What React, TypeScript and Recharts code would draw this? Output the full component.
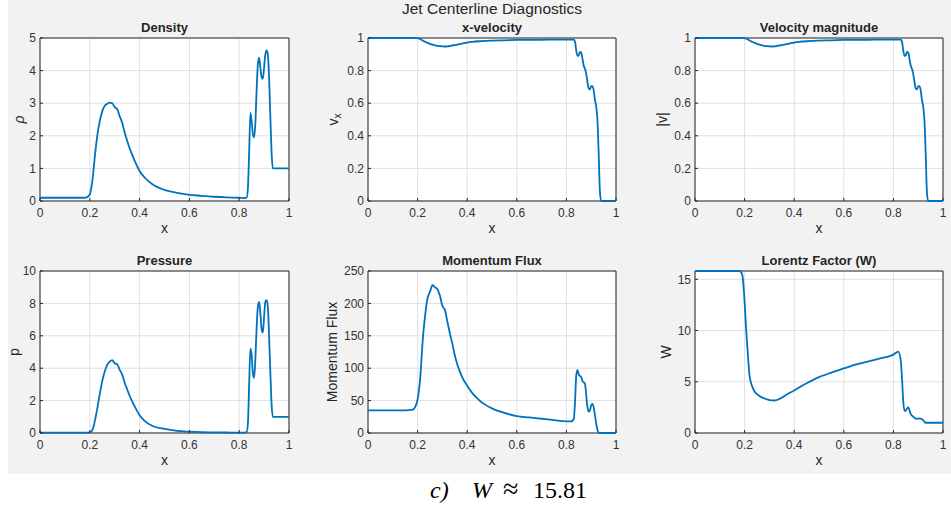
import React from "react";
import { LineChart, Line, XAxis, YAxis, CartesianGrid, ReferenceArea } from "recharts";

// centerline samples (x position)
const xs = [
  0, 0.05, 0.1, 0.15, 0.18, 0.19, 0.2, 0.205, 0.21, 0.215,
  0.22, 0.23, 0.24, 0.25, 0.26, 0.27, 0.28, 0.29, 0.3, 0.31,
  0.32, 0.33, 0.34, 0.35, 0.36, 0.37, 0.38, 0.4, 0.42, 0.45,
  0.5, 0.55, 0.6, 0.65, 0.7, 0.75, 0.8, 0.82, 0.83, 0.835,
  0.84, 0.845, 0.85, 0.855, 0.86, 0.865, 0.87, 0.875, 0.88, 0.885,
  0.89, 0.895, 0.9, 0.905, 0.91, 0.915, 0.92, 0.925, 0.93, 0.935,
  0.94, 0.95, 1,
];

const density = [
  0.1, 0.1, 0.1, 0.1, 0.1, 0.12, 0.2, 0.35, 0.6, 0.95,
  1.35, 2.0, 2.45, 2.75, 2.92, 2.98, 3.02, 3.0, 2.88, 2.82,
  2.6, 2.4, 2.1, 1.85, 1.62, 1.42, 1.24, 0.92, 0.72, 0.52,
  0.34, 0.25, 0.19, 0.16, 0.13, 0.11, 0.1, 0.09, 0.1, 0.4,
  1.5, 2.7, 2.45, 2.05, 1.95, 2.4, 3.4, 4.2, 4.4, 4.1,
  3.8, 3.75, 4.1, 4.5, 4.62, 4.5, 3.8, 2.6, 1.5, 1.0,
  1.0, 1.0, 1.0,
];

const xVelocity = [
  1, 1, 1, 1, 1, 1, 0.998, 0.997, 0.995, 0.99,
  0.985, 0.977, 0.97, 0.964, 0.959, 0.955, 0.952, 0.95, 0.949, 0.948,
  0.949, 0.951, 0.954, 0.957, 0.96, 0.963, 0.966, 0.972, 0.976, 0.98,
  0.984, 0.986, 0.988, 0.989, 0.989, 0.99, 0.99, 0.99, 0.99, 0.975,
  0.92, 0.89, 0.895, 0.915, 0.91, 0.87, 0.83, 0.81, 0.78, 0.73,
  0.69, 0.685, 0.705, 0.705, 0.68, 0.62, 0.58, 0.5, 0.3, 0.06,
  0, 0, 0,
];

const velMagnitude = [
  1, 1, 1, 1, 1, 1, 0.998, 0.997, 0.995, 0.99,
  0.985, 0.977, 0.97, 0.964, 0.959, 0.955, 0.952, 0.95, 0.949, 0.948,
  0.949, 0.951, 0.954, 0.957, 0.96, 0.963, 0.966, 0.972, 0.976, 0.98,
  0.984, 0.986, 0.988, 0.989, 0.989, 0.99, 0.99, 0.99, 0.99, 0.975,
  0.92, 0.89, 0.895, 0.915, 0.91, 0.87, 0.83, 0.81, 0.78, 0.73,
  0.69, 0.685, 0.705, 0.705, 0.68, 0.62, 0.58, 0.5, 0.3, 0.06,
  0, 0, 0,
];

const pressure = [
  0.02, 0.02, 0.02, 0.02, 0.02, 0.02, 0.04, 0.08, 0.18, 0.38,
  0.72, 1.5, 2.4, 3.2, 3.8, 4.2, 4.4, 4.5, 4.3, 4.25,
  3.9, 3.6, 3.1, 2.7, 2.3, 1.95, 1.65, 1.1, 0.75, 0.45,
  0.25, 0.13, 0.08, 0.05, 0.04, 0.03, 0.02, 0.02, 0.05, 0.6,
  3.0, 5.2, 4.8, 3.7, 3.4, 4.6, 6.5, 7.8, 8.1, 7.4,
  6.4, 6.2, 7.2, 8.1, 8.2, 7.8, 6.0, 3.8, 1.8, 1.0,
  1.0, 1.0, 1.0,
];

const momentumFlux = [
  35, 35, 35, 35, 36, 40, 52, 65, 82, 110,
  140, 180, 208, 218, 228, 225, 222, 212, 196, 190,
  172, 154, 138, 120, 106, 95, 86, 73, 62, 50,
  38, 31, 26, 24, 22, 20, 18, 18, 22, 50,
  90, 97, 90, 88, 86, 80, 78, 76, 58, 40,
  33, 35, 43, 45, 40, 28, 15, 5, 0.5, 0,
  0, 0, 0,
];

const lorentz = [
  15.81, 15.81, 15.81, 15.81, 15.81, 15.5, 12.8, 10.6, 8.8, 7.0,
  5.6, 4.6, 4.05, 3.8, 3.62, 3.48, 3.37, 3.28, 3.22, 3.18,
  3.17, 3.22, 3.32, 3.45, 3.6, 3.75, 3.9, 4.15, 4.45, 4.85,
  5.45, 5.9, 6.3, 6.7, 7.0, 7.3, 7.65, 7.95, 7.0, 5.2,
  3.0, 2.15, 2.2, 2.4, 2.5, 2.2, 1.85, 1.7, 1.6, 1.5,
  1.4, 1.4, 1.4, 1.42, 1.4, 1.35, 1.25, 1.1, 1.0, 1.0,
  1.0, 1.0, 1.0,
];

const xTicks = [0, 0.2, 0.4, 0.6, 0.8, 1];
const densityTicks = [0, 1, 2, 3, 4, 5];
const velTicks = [0, 0.2, 0.4, 0.6, 0.8, 1];
const pressureTicks = [0, 2, 4, 6, 8, 10];
const fluxTicks = [0, 50, 100, 150, 200, 250];
const lorentzTicks = [0, 5, 10, 15];

const SANS = '"Liberation Sans", Arial, Helvetica, sans-serif';
const SERIF = '"Liberation Serif", "DejaVu Serif", serif';
const INK = "#262626";
const BLUE = "#0072BD";

const YW = 60; // y axis band
const MT = 12;
const MR = 6;
const XH = 40;

interface PanelProps {
  title: string;
  yLabel: React.ReactNode;
  values: number[];
  yMax: number;
  yTicks: number[];
  left: number;
  top: number;
  w: number;
  h: number;
  labelX: number;
}

function Panel(props: PanelProps) {
  const { title, yLabel, values, yMax, yTicks, left, top, w, h, labelX } = props;
  const data = xs.map((x, i) => ({ x, y: values[i] }));
  const chartLeft = left - YW;
  const lx = labelX - chartLeft;
  const ly = MT + h / 2;

  return (
    <>
      <div
        style={{
          position: "absolute",
          left,
          top: top - 18,
          width: w,
          textAlign: "center",
          font: `bold 13px ${SANS}`,
          lineHeight: "16px",
          color: INK,
        }}
      >
        {title}
      </div>
      <div style={{ position: "absolute", left: chartLeft, top: top - MT }}>
        <LineChart
          width={YW + w + MR}
          height={MT + h + XH}
          data={data}
          margin={{ top: MT, right: MR, left: 0, bottom: 0 }}
        >
          <CartesianGrid fill="#fff" stroke="#e0e0e0" />
          <XAxis
            dataKey="x"
            type="number"
            domain={[0, 1]}
            ticks={xTicks}
            interval={0}
            height={XH}
            axisLine={false}
            tickSize={-3}
            tickMargin={10}
            tickLine={{ stroke: INK }}
            tick={{ fill: "#333", fontSize: 12, fontFamily: SANS }}
            label={() => (
              <text
                x={YW + w / 2}
                y={MT + h + 32}
                textAnchor="middle"
                fontSize={14}
                fontFamily={SANS}
                fill={INK}
              >
                x
              </text>
            )}
          />
          <YAxis
            type="number"
            domain={[0, yMax]}
            ticks={yTicks}
            interval={0}
            width={YW}
            axisLine={false}
            tickSize={-3}
            tickMargin={7}
            tickLine={{ stroke: INK }}
            tick={{ fill: "#333", fontSize: 12, fontFamily: SANS }}
            label={() => (
              <text
                x={lx}
                y={ly}
                dy="0.35em"
                transform={`rotate(-90, ${lx}, ${ly})`}
                textAnchor="middle"
                fontSize={14}
                fontFamily={SANS}
                fill={INK}
              >
                {yLabel}
              </text>
            )}
          />
          <ReferenceArea x1={0} x2={1} y1={0} y2={yMax} fill="none" stroke={INK} strokeWidth={1} />
          <Line
            type="monotone"
            dataKey="y"
            stroke={BLUE}
            strokeWidth={1.8}
            dot={false}
            isAnimationActive={false}
          />
        </LineChart>
      </div>
    </>
  );
}

export default function App() {
  return (
    <div style={{ position: "absolute", left: 0, top: 0, width: 951, height: 507, background: "#fff" }}>
      <div style={{ position: "absolute", left: 8, top: 0, width: 943, height: 474, background: "#f2f2f2" }} />
      <div
        style={{
          position: "absolute",
          left: 392,
          top: 0,
          width: 200,
          textAlign: "center",
          font: `15.5px ${SANS}`,
          lineHeight: "18px",
          color: INK,
        }}
      >
        Jet Centerline Diagnostics
      </div>

      <Panel title="Density" yLabel={<tspan fontStyle="italic">ρ</tspan>} values={density} yMax={5}
        yTicks={densityTicks} left={40} top={38} w={249} h={163} labelX={19} />
      <Panel
        title="x-velocity"
        yLabel={
          <>
            <tspan>v</tspan>
            <tspan fontSize={10} dy={3}>x</tspan>
          </>
        }
        values={xVelocity} yMax={1} yTicks={velTicks} left={368} top={38} w={248} h={163} labelX={333} />
      <Panel title="Velocity magnitude" yLabel="|v|" values={velMagnitude} yMax={1}
        yTicks={velTicks} left={695} top={38} w={248} h={163} labelX={662} />

      <Panel title="Pressure" yLabel="p" values={pressure} yMax={10}
        yTicks={pressureTicks} left={40} top={271} w={249} h={162} labelX={14} />
      <Panel title="Momentum Flux" yLabel="Momentum Flux" values={momentumFlux} yMax={250}
        yTicks={fluxTicks} left={368} top={271} w={248} h={162} labelX={332} />
      <Panel title="Lorentz Factor (W)" yLabel="W" values={lorentz} yMax={15.81}
        yTicks={lorentzTicks} left={695} top={271} w={248} h={162} labelX={666} />

      <div style={{ position: "absolute", left: 0, top: 478, width: 951, height: 26, font: `24px ${SERIF}`, color: "#000", lineHeight: "24px" }}>
        <span style={{ position: "absolute", left: 430, fontStyle: "italic" }}>c)</span>
        <span style={{ position: "absolute", left: 472, fontStyle: "italic" }}>W</span>
        <span style={{ position: "absolute", left: 503, top: -1, fontSize: 28 }}>≈</span>
        <span style={{ position: "absolute", left: 533 }}>15.81</span>
      </div>
    </div>
  );
}
